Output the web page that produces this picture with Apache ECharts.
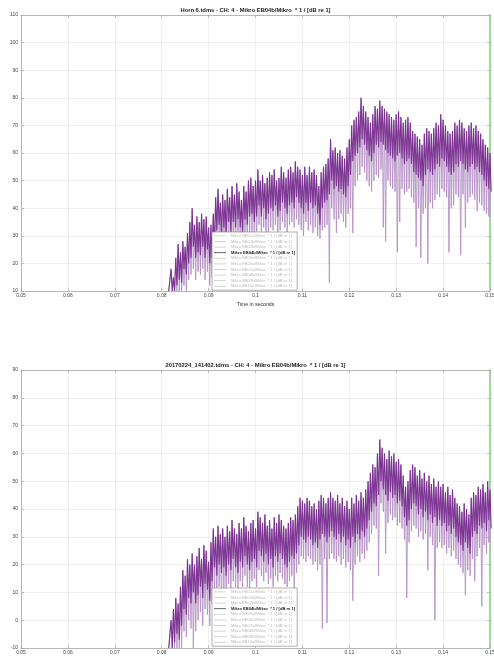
<!DOCTYPE html>
<html>
<head>
<meta charset="utf-8">
<script src="https://cdn.jsdelivr.net/npm/echarts@6/dist/echarts.min.js"></script>
<style>
  html, body { margin: 0; padding: 0; background: #fff; }
  #chart { width: 494px; height: 659px; }
</style>
</head>
<body>
<div id="chart"></div>
<script>
// Sample grid of both recordings (seconds)
const t0 = 0.0815;
const dt = 0.0005;

// Horn 6.tdms: per-sample peak, lower edge of the dense band, and deepest dip (dB)
const hornPeak = [
  10,18,15,22,27,24,28,26,31,35,
  40,34,37,35,38,36,37,33,34,38,
  44,47,42,45,43,47,44,48,45,49,
  46,43,48,46,50,51,48,50,54,50,
  52,49,51,53,52,54,50,51,55,53,
  51,54,55,53,57,55,54,52,55,52,
  55,53,54,52,48,53,55,56,58,65,
  61,62,60,61,59,58,62,65,70,72,
  73,75,80,77,75,73,71,74,77,76,
  79,77,76,75,74,73,72,74,75,73,
  71,72,73,71,68,67,66,65,63,67,
  69,68,67,69,71,70,74,72,70,68,
  67,68,71,70,72,71,69,68,70,71,
  69,70,68,67,65,63,62,60
];
const hornBand = [
  10,10,10,12,14,13,18,16,20,22,
  26,22,24,23,26,22,25,20,22,26,
  32,34,30,33,30,35,31,35,33,36,
  33,31,36,34,37,38,35,37,41,37,
  40,36,38,40,39,41,37,39,42,40,
  38,41,42,40,44,42,40,38,42,39,
  42,40,41,38,34,40,42,43,45,50,
  47,48,46,47,45,44,48,52,57,59,
  60,62,65,63,61,59,57,60,63,62,
  64,63,61,60,59,58,57,59,60,58,
  56,57,58,56,53,52,51,50,48,52,
  54,53,52,54,56,55,58,57,55,53,
  52,53,56,55,57,56,54,53,55,56,
  54,55,53,52,50,48,47,46
];
const hornDip = [
  10,10,10,10,10,10,12,10,14,16,
  18,14,17,16,18,14,17,12,15,18,
  24,26,22,25,22,27,24,28,25,29,
  26,24,29,27,30,31,28,30,34,30,
  33,29,31,33,32,34,30,32,35,33,
  31,34,35,33,36,34,32,30,35,32,
  34,31,33,30,29,32,33,34,13,40,
  36,31,36,38,35,33,38,40,31,48,
  50,52,55,53,50,48,46,50,52,51,
  54,33,28,50,48,47,46,24,35,47,
  45,46,47,44,42,26,40,22,38,40,
  20,42,40,43,45,44,47,46,44,24,
  40,41,45,44,23,45,33,42,44,45,
  43,39,42,41,39,38,37,36
];

// 20170224_141402.tdms: per-sample peak, band edge and deepest dip (dB)
const recPeak = [
  -10,0,4,8,6,12,18,16,22,20,
  24,20,23,26,22,27,25,21,28,33,
  30,34,31,33,30,34,32,36,33,31,
  35,33,37,34,32,35,36,33,39,37,
  35,38,34,36,33,37,35,38,36,34,
  33,35,37,36,38,41,44,43,42,44,
  43,41,42,40,43,45,44,42,44,46,
  44,43,45,42,44,41,43,40,44,42,
  45,43,46,44,47,50,53,56,55,60,
  65,62,60,58,61,59,60,57,58,56,
  52,48,50,54,56,55,52,54,51,53,
  50,52,49,51,48,50,48,49,46,48,
  45,47,44,42,41,39,42,40,38,44,
  46,45,48,47,49,46,50,47
];
const recBand = [
  -10,-10,-8,-5,-7,-2,4,2,8,6,
  10,6,9,12,8,13,11,7,14,19,
  16,20,17,19,16,20,18,22,19,17,
  21,19,23,20,18,21,22,19,25,23,
  21,24,20,22,19,23,21,24,22,20,
  19,21,23,22,24,27,30,29,28,30,
  29,27,28,26,29,31,30,28,30,32,
  30,29,31,28,30,27,29,26,30,28,
  31,29,32,30,33,36,39,42,41,45,
  50,47,45,43,46,44,45,42,43,41,
  37,34,36,40,42,41,38,40,37,39,
  36,38,35,37,34,36,34,35,32,34,
  31,33,30,28,27,25,28,26,24,30,
  32,31,34,33,35,32,36,33
];
const recDip = [
  -10,-10,-10,-10,-10,-10,-4,-6,0,-3,
  -10,-4,0,3,-2,4,2,-2,6,10,
  8,12,8,11,9,13,10,14,12,10,
  14,12,16,12,11,14,15,12,18,16,
  14,17,13,15,12,16,14,17,15,13,
  12,14,16,11,17,20,23,22,21,23,
  22,20,21,18,20,-3,22,-1,22,24,
  22,21,23,20,22,19,21,18,7,20,
  23,21,24,22,25,28,31,34,33,16,
  42,39,24,35,38,36,37,34,35,33,
  29,8,28,32,34,33,30,32,29,31,
  18,30,27,0,26,28,26,27,24,26,
  23,25,22,20,19,17,9,18,16,22,
  14,23,26,5,27,24,28,25
];

// Channel list of the legend; only EB04b carries data here
const channelNames = [
  'Mikro EB01a/Mikro  * 1 / [dB re 1]',
  'Mikro EB01b/Mikro  * 1 / [dB re 1]',
  'Mikro EB02b/Mikro  * 1 / [dB re 1]',
  'Mikro EB04b/Mikro  * 1 / [dB re 1]',
  'Mikro EB05a/Mikro  * 1 / [dB re 1]',
  'Mikro EB06a/Mikro  * 1 / [dB re 1]',
  'Mikro EB07a/Mikro  * 1 / [dB re 1]',
  'Mikro EB08b/Mikro  * 1 / [dB re 1]',
  'Mikro EB09b/Mikro  * 1 / [dB re 1]',
  'Mikro EB10a/Mikro  * 1 / [dB re 1]'
];
const activeChannel = 3;

const titles = [
  'Horn 6.tdms - CH: 4 - Mikro EB04b/Mikro  * 1 / [dB re 1]',
  '20170224_141402.tdms - CH: 4 - Mikro EB04b/Mikro  * 1 / [dB re 1]'
];
const xRange = { min: 0.05, max: 0.15, interval: 0.01 };
const yRanges = [
  { min: 10, max: 110, interval: 10 },
  { min: -10, max: 90, interval: 10 }
];

const FONT = 'Liberation Sans, Arial, sans-serif';
const AXIS_GRAY = '#a8a8a8';
const GRID_GRAY = '#e9e9e9';

// Plot rectangles (px)
const plots = [
  { left: 21, right: 490, top: 15, bottom: 291 },
  { left: 21, right: 490, top: 370, bottom: 648 }
];

// Sawtooth between the peak and a lower trace, one tooth per sample
function sawtooth(peak, low) {
  const pts = [];
  for (let i = 0; i < peak.length; i++) {
    const t = t0 + i * dt;
    pts.push([t, peak[i]]);
    pts.push([t + dt / 2, low[i]]);
  }
  return pts;
}

function bottomX(gridIndex) {
  return {
    type: 'value', gridIndex, position: 'bottom',
    min: xRange.min, max: xRange.max, interval: xRange.interval,
    name: 'Time in seconds', nameLocation: 'middle', nameGap: 11,
    nameTextStyle: { fontSize: 5.2, color: '#333', fontFamily: FONT },
    axisLine: { onZero: false, lineStyle: { color: AXIS_GRAY, width: 0.8 } },
    axisTick: { inside: true, length: 3, lineStyle: { color: AXIS_GRAY, width: 0.7 } },
    axisLabel: { fontSize: 5, color: '#444', margin: 2.5, fontFamily: FONT,
      showMinLabel: true, showMaxLabel: true,
      formatter: v => String(+v.toFixed(2)) },
    splitLine: { show: true, lineStyle: { color: GRID_GRAY, width: 0.7 } }
  };
}
function topX(gridIndex) {
  return {
    type: 'value', gridIndex, position: 'top',
    min: xRange.min, max: xRange.max, interval: xRange.interval,
    axisLine: { onZero: false, lineStyle: { color: AXIS_GRAY, width: 0.8 } },
    axisTick: { inside: true, length: 3, lineStyle: { color: AXIS_GRAY, width: 0.7 } },
    axisLabel: { show: false },
    splitLine: { show: false }
  };
}
function leftY(gridIndex) {
  const r = yRanges[gridIndex];
  return {
    type: 'value', gridIndex, position: 'left',
    min: r.min, max: r.max, interval: r.interval,
    name: 'Amplitude in dB', nameLocation: 'middle', nameGap: 12,
    nameTextStyle: { fontSize: 5.2, color: '#333', fontFamily: FONT },
    axisLine: { show: true, onZero: false, lineStyle: { color: AXIS_GRAY, width: 0.8 } },
    axisTick: { show: true, inside: true, length: 3, lineStyle: { color: AXIS_GRAY, width: 0.7 } },
    axisLabel: { fontSize: 5, color: '#444', margin: 3, fontFamily: FONT },
    splitLine: { show: true, lineStyle: { color: GRID_GRAY, width: 0.7 } }
  };
}
function rightY(gridIndex) {
  const r = yRanges[gridIndex];
  return {
    type: 'value', gridIndex, position: 'right',
    min: r.min, max: r.max, interval: r.interval,
    axisLine: { show: true, onZero: false, lineStyle: { color: '#86d486', width: 1.6 } },
    axisTick: { show: true, inside: true, length: 3, lineStyle: { color: AXIS_GRAY, width: 0.7 } },
    axisLabel: { show: false },
    splitLine: { show: false }
  };
}

function legendFor(top) {
  return {
    orient: 'vertical', left: 212, top,
    backgroundColor: '#ffffff',
    borderColor: '#8c8c8c', borderWidth: 0.7, borderRadius: 0,
    padding: [1.5, 2, 1.5, 2],
    icon: 'rect', itemWidth: 12, itemHeight: 0.8, itemGap: 0.8, itemTextGap: 3,
    selectedMode: false,
    textStyle: { fontSize: 4.1, lineHeight: 4.8, fontFamily: FONT },
    data: channelNames.map((name, k) => ({
      name,
      itemStyle: { color: k === activeChannel ? '#444' : '#c8c8c8' },
      textStyle: { color: k === activeChannel ? '#222' : '#b8b8b8',
        fontWeight: k === activeChannel ? 'bold' : 'normal' }
    }))
  };
}

function signalSeries(axisIndex, peak, band, dip) {
  const name = channelNames[activeChannel];
  return [
    {
      name, type: 'line', xAxisIndex: axisIndex, yAxisIndex: axisIndex,
      data: sawtooth(peak, dip), showSymbol: false, symbol: 'none',
      lineStyle: { color: '#b690c6', width: 0.9 }, itemStyle: { color: '#b690c6' },
      z: 2, silent: true
    },
    {
      name, type: 'line', xAxisIndex: axisIndex, yAxisIndex: axisIndex,
      data: sawtooth(peak, band), showSymbol: false, symbol: 'none',
      lineStyle: { color: '#74288c', width: 1.1, opacity: 0.9 }, itemStyle: { color: '#74288c' },
      z: 3, silent: true
    }
  ];
}

// Channels without data still appear in the legend
const channelPlaceholders = channelNames
  .filter((n, k) => k !== activeChannel)
  .map(name => ({ name, type: 'line', xAxisIndex: 0, yAxisIndex: 0, data: [] }));

const option = {
  animation: false,
  backgroundColor: '#ffffff',
  textStyle: { fontFamily: FONT },
  grid: plots.map(p => ({
    left: p.left, width: p.right - p.left, top: p.top, height: p.bottom - p.top,
    containLabel: false, outerBoundsMode: 'none'
  })),
  xAxis: [bottomX(0), topX(0), bottomX(1), topX(1)].map((a, k) => Object.assign(a, { gridIndex: k < 2 ? 0 : 1 })),
  yAxis: [leftY(0), rightY(0), leftY(1), rightY(1)].map((a, k) => Object.assign(a, { gridIndex: k < 2 ? 0 : 1 })),
  legend: [legendFor(232), legendFor(588)],
  graphic: titles.map((text, k) => ({
    type: 'text',
    x: (plots[k].left + plots[k].right) / 2,
    y: plots[k].top - 5,
    style: {
      text, fill: '#222', align: 'center', verticalAlign: 'middle',
      font: 'bold 5.8px ' + FONT
    }
  })),
  series: [
    ...signalSeries(0, hornPeak, hornBand, hornDip),
    ...signalSeries(2, recPeak, recBand, recDip),
    ...channelPlaceholders
  ]
};

const chart = echarts.init(document.getElementById('chart'), null, { renderer: 'canvas' });
chart.setOption(option);
</script>
</body>
</html>
